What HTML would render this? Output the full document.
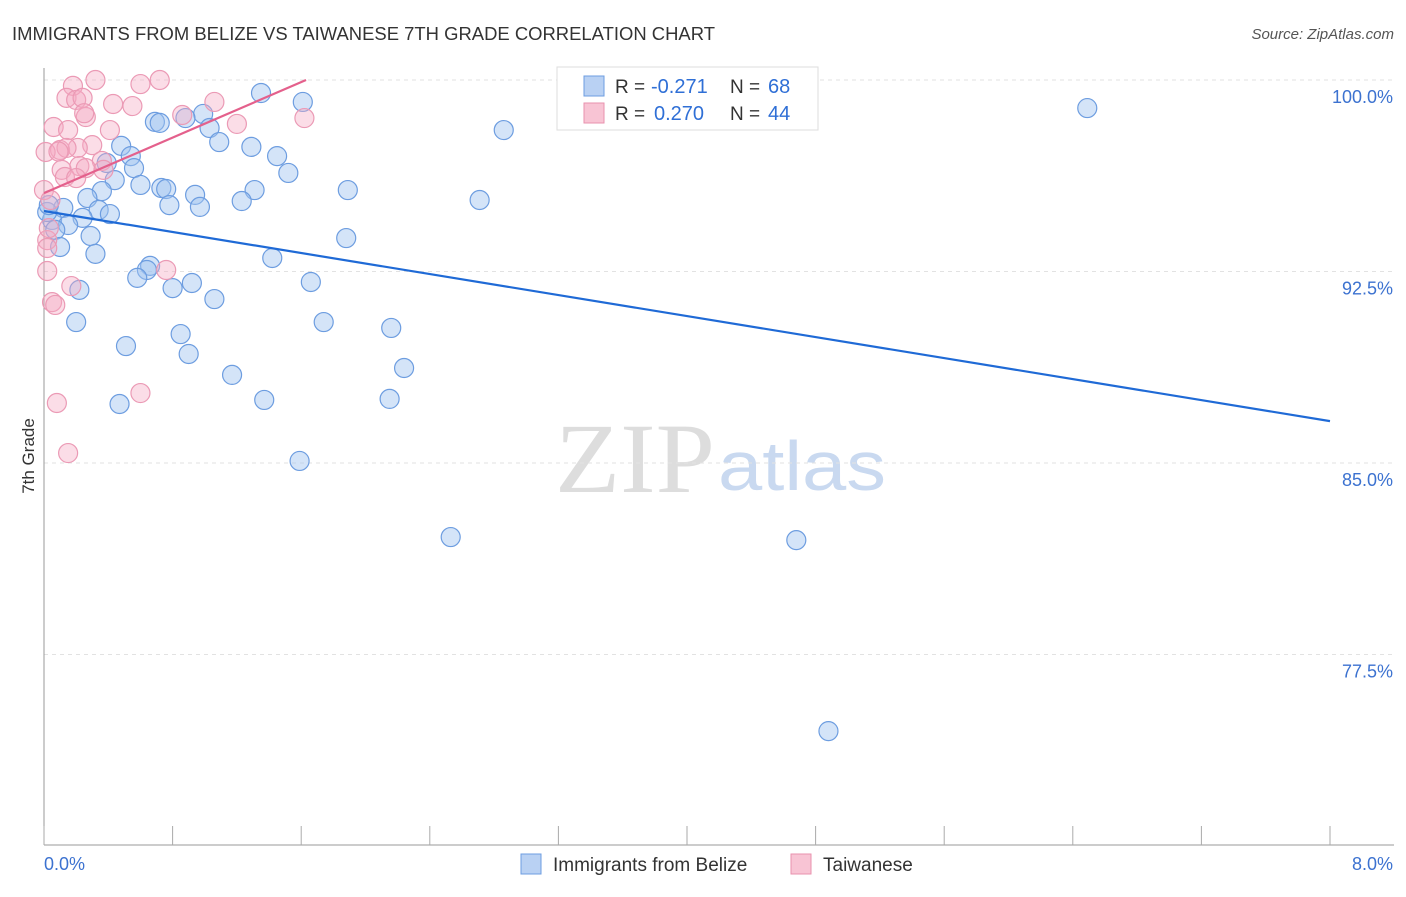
<!DOCTYPE html>
<html><head><meta charset="utf-8"><style>
body{margin:0;background:#fff;font-family:"Liberation Sans",sans-serif}
svg text{font-family:"Liberation Sans",sans-serif}
</style></head><body>
<svg id="c" width="1406" height="892">
<text x="12" y="40" font-size="18" fill="#333" textLength="703" lengthAdjust="spacingAndGlyphs">IMMIGRANTS FROM BELIZE VS TAIWANESE 7TH GRADE CORRELATION CHART</text>
<text x="1394" y="39" font-size="15" fill="#555" font-style="italic" text-anchor="end">Source: ZipAtlas.com</text>
<text x="34" y="456" font-size="17" fill="#333" transform="rotate(-90 34 456)" text-anchor="middle">7th Grade</text>
<text x="555" y="492" font-size="100" fill="#ddd" textLength="160" lengthAdjust="spacingAndGlyphs" style="font-family:'Liberation Serif',serif">ZIP</text>
<text x="718" y="490" font-size="70" fill="#c9d9f0" textLength="168" lengthAdjust="spacingAndGlyphs">atlas</text>
<g id="grid"></g><g id="pts"></g><g id="trend"></g>
<g>
<rect x="557" y="67" width="261" height="63" fill="#fff" stroke="#ddd"/>
<rect x="584" y="76" width="20" height="20" fill="#b9d1f3" stroke="#6d9de0"/>
<rect x="584" y="103" width="20" height="20" fill="#f8c4d4" stroke="#e892ae"/>
<text x="615" y="93" font-size="19" fill="#333">R = </text><text x="651" y="93" font-size="20" fill="#2f6fd6">-0.271</text>
<text x="730" y="93" font-size="19" fill="#333">N = </text><text x="768" y="93" font-size="20" fill="#2f6fd6">68</text>
<text x="615" y="120" font-size="19" fill="#333">R = </text><text x="654" y="120" font-size="20" fill="#2f6fd6">0.270</text>
<text x="730" y="120" font-size="19" fill="#333">N = </text><text x="768" y="120" font-size="20" fill="#2f6fd6">44</text>
</g>
<g>
<rect x="521" y="854" width="20" height="20" fill="#b9d1f3" stroke="#6d9de0"/>
<text x="553" y="871" font-size="19" fill="#333">Immigrants from Belize</text>
<rect x="791" y="854" width="20" height="20" fill="#f8c4d4" stroke="#e892ae"/>
<text x="823" y="871" font-size="19" fill="#333">Taiwanese</text>
</g>
</svg>
<script>
const yTicks=[100,92.5,85,77.5];
const xTickLabels=["0.0%","8.0%"];
const belizeX=[4.45,6.49,2.86,1.35,1.61,0.99,0.88,0.69,0.72,1.03,1.09,1.29,0.48,0.54,1.45,0.39,0.56,1.52,0.44,0.60,0.73,0.76,0.36,0.94,1.31,1.89,0.27,1.23,0.78,0.97,2.71,0.12,0.34,0.41,0.24,0.05,0.15,0.07,0.29,1.88,0.10,0.32,1.42,0.66,0.64,0.58,0.92,1.66,0.80,0.22,1.06,0.20,1.74,2.16,0.85,0.51,0.90,2.24,1.17,1.37,2.15,0.47,1.59,2.53,4.68,4.88,0.02,0.03];
const belizeY=[100,98.9,98.04,99.49,99.14,98.67,98.51,98.36,98.32,98.12,97.57,97.38,97.42,97.02,97.02,96.75,96.55,96.36,96.08,95.89,95.77,95.73,95.65,95.5,95.69,95.69,95.38,95.26,95.1,95.03,95.3,94.99,94.91,94.75,94.6,94.52,94.32,94.13,93.89,93.81,93.46,93.19,93.03,92.72,92.56,92.25,92.05,92.09,91.85,91.78,91.42,90.52,90.52,90.29,90.05,89.58,89.27,88.72,88.45,87.47,87.51,87.31,85.08,82.1,81.98,74.5,94.83,95.1];
const taiwanX=[0.32,0.72,0.60,0.18,0.14,0.20,0.24,0.43,0.55,0.86,1.06,0.26,1.62,1.20,0.06,0.15,0.41,0.30,0.10,0.21,0.01,0.36,0.22,0.11,0.26,0.13,0.20,0.00,0.04,0.02,0.02,0.02,0.17,0.76,0.05,0.07,0.60,0.08,0.15,0.37,0.14,0.03,0.25,0.09];
const taiwanY=[100,100,99.84,99.77,99.3,99.22,99.3,99.06,98.98,98.63,99.14,98.55,98.51,98.28,98.16,98.04,98.04,97.45,97.26,97.34,97.18,96.83,96.63,96.48,96.55,96.2,96.16,95.69,95.3,93.73,93.42,92.52,91.93,92.56,91.3,91.19,87.74,87.35,85.39,96.48,97.34,94.2,98.7,97.2];
const belizeTrendX=[0,8], belizeTrendY=[94.87,86.64];
const taiwanTrendX=[0,1.63], taiwanTrendY=[95.57,100];
const NS='http://www.w3.org/2000/svg';
const X=v=>44+v/8*1286, Y=v=>80+(100-v)/7.5*191.5;
function mk(t,a,p){const e=document.createElementNS(NS,t);for(const k in a)e.setAttribute(k,a[k]);p.appendChild(e);return e;}
const g=document.getElementById('grid');
yTicks.forEach(t=>{
 const l=mk('line',{x1:44,x2:1394,y1:Y(t),y2:Y(t),stroke:'#e2e2e2','stroke-dasharray':'4,4'},g);
 
 
 const tx=mk('text',{x:1393,y:Y(t)+23,'font-size':18,fill:'#3c72d0','text-anchor':'end'},g);tx.textContent=t.toFixed(1)+'%';
 
 
});
mk('line',{x1:44,x2:44,y1:68,y2:845,stroke:'#999'},g);
mk('line',{x1:44,x2:1394,y1:845,y2:845,stroke:'#999'},g);
for(let i=0;i<=10;i++){const x=44+i*128.6;mk('line',{x1:x,x2:x,y1:826,y2:845,stroke:'#aaa'},g);}
xTickLabels.forEach((s,i)=>{const tx=mk('text',{x:i?1393:44,y:870,'font-size':18,fill:'#3c72d0','text-anchor':i?'end':'start'},g);tx.textContent=s;
 
 });
const P=document.getElementById('pts');
belizeX.forEach((v,i)=>{const c=mk('circle',{cx:X(v),cy:Y(belizeY[i]),r:9.5,fill:'rgba(160,195,240,0.45)',stroke:'#6d9de0','stroke-width':1.2},P);
 
 });
taiwanX.forEach((v,i)=>{const c=mk('circle',{cx:X(v),cy:Y(taiwanY[i]),r:9.5,fill:'rgba(245,170,195,0.4)',stroke:'#eb9ab5','stroke-width':1.2},P);
 
 });
const T=document.getElementById('trend');
const b=mk('line',{x1:X(belizeTrendX[0]),y1:Y(belizeTrendY[0]),x2:X(belizeTrendX[1]),y2:Y(belizeTrendY[1]),stroke:'#1f6ad6','stroke-width':2.2},T);


const t=mk('line',{x1:X(taiwanTrendX[0]),y1:Y(taiwanTrendY[0]),x2:X(taiwanTrendX[1]),y2:Y(taiwanTrendY[1]),stroke:'#e4608c','stroke-width':2.2},T);


</script>
</body></html>
